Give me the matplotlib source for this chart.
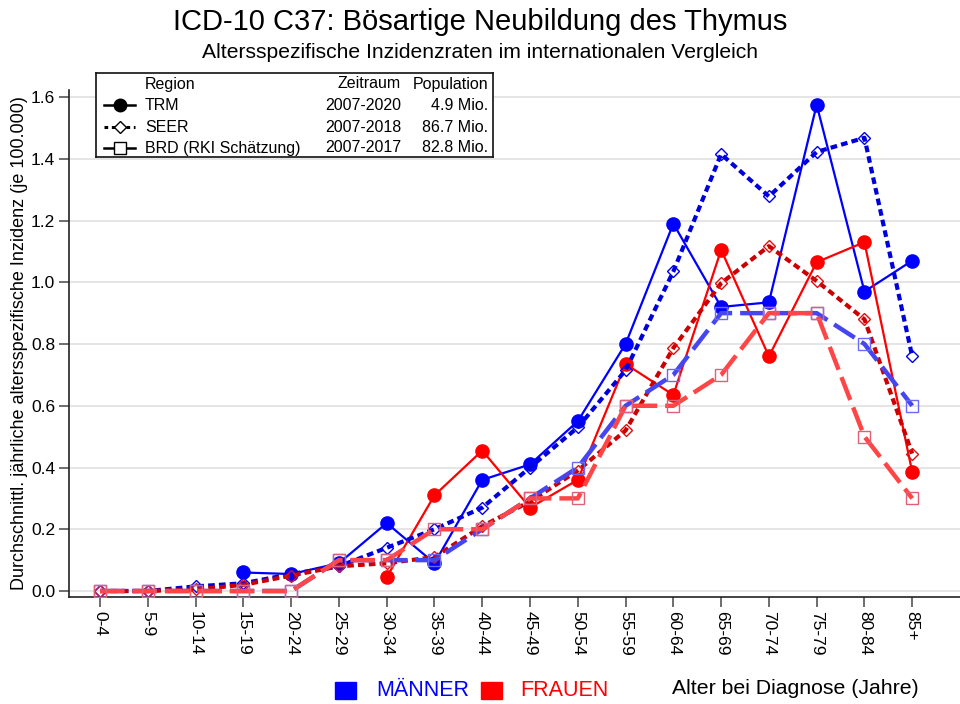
import matplotlib
matplotlib.use("Agg")
import matplotlib.pyplot as plt
from matplotlib.lines import Line2D
import numpy as np

plt.rcParams['font.family'] = ['Liberation Sans', 'DejaVu Sans']

age_groups = ["0-4", "5-9", "10-14", "15-19", "20-24", "25-29", "30-34", "35-39",
              "40-44", "45-49", "50-54", "55-59", "60-64", "65-69", "70-74",
              "75-79", "80-84", "85+"]

# TRM (solid, filled circles); None = not shown
trm_men = [None, None, None, 0.06, 0.055, 0.09, 0.22, 0.09, 0.36, 0.41, 0.55,
           0.80, 1.19, 0.92, 0.935, 1.575, 0.97, 1.07]
trm_women = [None, None, None, None, None, None, 0.045, 0.31, 0.455, 0.27, 0.36,
             0.735, 0.635, 1.105, 0.76, 1.065, 1.13, 0.385]
# SEER (short dashes, open diamonds)
seer_men = [0.0, 0.0, 0.015, 0.025, 0.055, 0.08, 0.14, 0.20, 0.27, 0.40, 0.53,
            0.715, 1.035, 1.415, 1.278, 1.422, 1.468, 0.76]
seer_women = [0.0, 0.0, 0.005, 0.02, 0.05, 0.08, 0.09, 0.11, 0.21, 0.29, 0.39,
              0.52, 0.787, 0.997, 1.117, 1.004, 0.88, 0.445]
# BRD (RKI Schätzung) (long dashes, open squares)
brd_men = [0.0, 0.0, 0.0, 0.0, 0.0, 0.1, 0.1, 0.1, 0.2, 0.3, 0.4,
           0.6, 0.7, 0.9, 0.9, 0.9, 0.8, 0.6]
brd_women = [0.0, 0.0, 0.0, 0.0, 0.0, 0.1, 0.1, 0.2, 0.2, 0.3, 0.3,
             0.6, 0.6, 0.7, 0.9, 0.9, 0.5, 0.3]

legend_regions = ["TRM", "SEER", "BRD (RKI Schätzung)"]
legend_periods = ["2007-2020", "2007-2018", "2007-2017"]
legend_pops = ["4.9 Mio.", "86.7 Mio.", "82.8 Mio."]

yticks = [0.0, 0.2, 0.4, 0.6, 0.8, 1.0, 1.2, 1.4, 1.6]

W, H = 960, 704
fig = plt.figure(figsize=(W / 100, H / 100), dpi=100)
fig.patch.set_facecolor('white')

ax = fig.add_axes([69 / W, 1 - 597 / H, (W - 69) / W, (597 - 90) / H])
x = np.arange(len(age_groups))


def arr(v):
    return np.array([np.nan if a is None else a for a in v], dtype=float)


# TRM
ax.plot(x, arr(trm_men), color='#0000ff', lw=1.6, marker='o', ms=9.5, zorder=3)
ax.plot(x, arr(trm_women), color='#ff0000', lw=1.6, marker='o', ms=9.5, zorder=3)
# SEER
ax.plot(x, arr(seer_men), color='#0000dd', lw=3, ls=(0, (1.6, 1.0)), marker='D', ms=6.5,
        mfc='none', mec='#0000ee', mew=1.0, zorder=4)
ax.plot(x, arr(seer_women), color='#cc0000', lw=3, ls=(0, (1.6, 1.0)), marker='D', ms=6.5,
        mfc='none', mec='#dd1111', mew=1.0, zorder=4)
# BRD
ax.plot(x, arr(brd_men), color='#4646f0', lw=3.2, ls=(0, (5.5, 1.8)), marker='s', ms=9,
        mfc='none', mec='#6a6af8', mew=1.0, zorder=5)
ax.plot(x, arr(brd_women), color='#ff4545', lw=3.2, ls=(0, (5.5, 1.8)), marker='s', ms=9,
        mfc='none', mec='#e0607a', mew=1.0, zorder=5)

ax.set_xlim(-0.65, 18.0)
ax.set_ylim(-0.0194, 1.6227)
ax.set_yticks(yticks)
ax.set_yticklabels([f"{v:.1f}" for v in yticks], fontsize=12.5)
ax.set_xticks(x)
ax.set_xticklabels(age_groups, rotation=-90, fontsize=12.5, va='top')
ax.grid(axis='y', color='#e0e0e0', lw=1.2, zorder=0)
ax.set_axisbelow(True)
for s in ['top', 'right']:
    ax.spines[s].set_visible(False)
for s in ['left', 'bottom']:
    ax.spines[s].set_color('#222222')
    ax.spines[s].set_linewidth(1.2)
ax.tick_params(axis='y', length=7, width=1.2, color='#555555', pad=3)
ax.tick_params(axis='x', length=7, width=1.2, color='#555555', pad=3)
ax.set_ylabel("Durchschnittl. jährliche altersspezifische Inzidenz (je 100.000)",
              fontsize=13, labelpad=2)

# Titles
fig.text(0.5, 1 - 22 / H, "ICD-10 C37: Bösartige Neubildung des Thymus",
         ha='center', va='center', fontsize=21)
fig.text(0.5, 1 - 52 / H, "Altersspezifische Inzidenzraten im internationalen Vergleich",
         ha='center', va='center', fontsize=15.2)

# Legend box (pixel coordinates)
lx0, ly0, lx1, ly1 = 96, 73, 493, 157
lax = fig.add_axes([lx0 / W, 1 - ly1 / H, (lx1 - lx0) / W, (ly1 - ly0) / H])
lax.set_xlim(lx0, lx1)
lax.set_ylim(ly1, ly0)
lax.set_xticks([])
lax.set_yticks([])
for s in lax.spines.values():
    s.set_color('#111111')
    s.set_linewidth(1.2)
lax.set_facecolor('white')
lax.set_zorder(10)
fs = 11.5
lax.text(145, 84, "Region", fontsize=fs, va='center', ha='left')
lax.text(401, 84, "Zeitraum", fontsize=fs, va='center', ha='right')
lax.text(488, 84, "Population", fontsize=fs, va='center', ha='right')
row_y = [105, 127, 148]
styles = [dict(ls='-', lw=1.8, marker='o', ms=9, mfc='black', mec='black'),
          dict(ls=(0, (1.2, 1.2)), lw=2.2, marker='D', ms=6, mfc='white', mec='black', mew=1.0),
          dict(ls='-', lw=1.8, marker='s', ms=8, mfc='white', mec='black', mew=1.0)]
for yy, st, reg, per, pop in zip(row_y, styles, legend_regions, legend_periods, legend_pops):
    lax.add_line(Line2D([104, 120, 135], [yy, yy, yy], color='black', markevery=[1], **st))
    lax.text(145, yy, reg, fontsize=fs, va='center', ha='left')
    lax.text(401, yy, per, fontsize=fs, va='center', ha='right')
    lax.text(488, yy, pop, fontsize=fs, va='center', ha='right')

# Bottom legend
fig.patches.append(plt.Rectangle((335 / W, 1 - 699 / H), 21 / W, 17 / H, color='#0000ff',
                                 transform=fig.transFigure, figure=fig))
fig.text(376 / W, 1 - 690 / H, "MÄNNER", color='#0000ff', fontsize=15.5, va='center', ha='left')
fig.patches.append(plt.Rectangle((481 / W, 1 - 699 / H), 21 / W, 17 / H, color='#ff0000',
                                 transform=fig.transFigure, figure=fig))
fig.text(520 / W, 1 - 690 / H, "FRAUEN", color='#ff0000', fontsize=15.5, va='center', ha='left')
fig.text(919 / W, 1 - 688 / H, "Alter bei Diagnose (Jahre)", color='black', fontsize=15.3,
         va='center', ha='right')

fig.savefig("out.png", dpi=100, facecolor='white')
